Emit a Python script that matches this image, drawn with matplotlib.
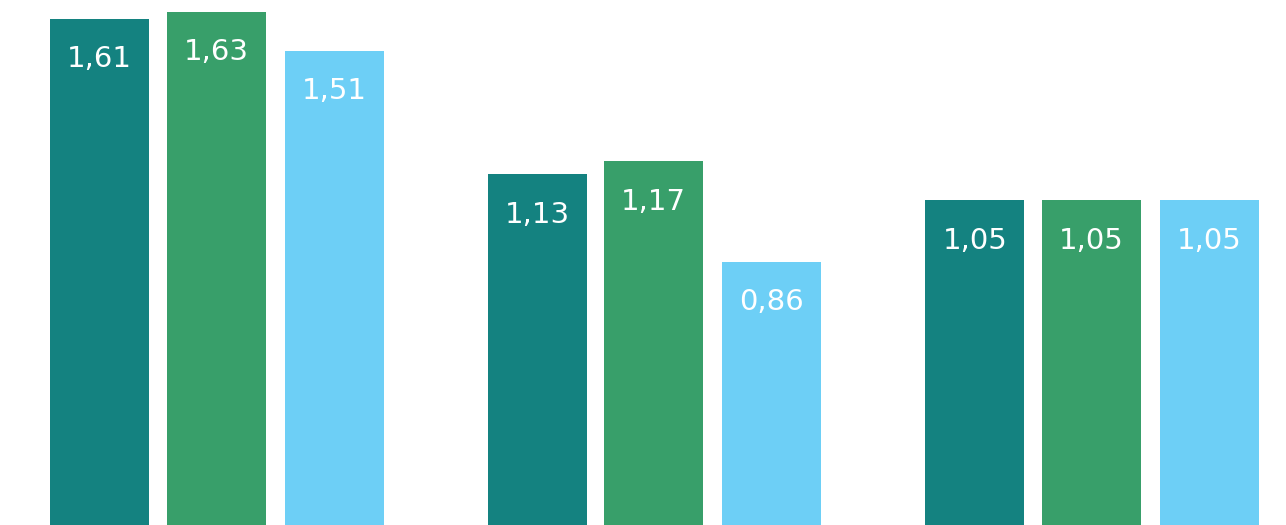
import matplotlib
matplotlib.use("Agg")
import matplotlib.pyplot as plt
import numpy as np

# Dane: trzy grupy po trzy serie
grupy = ["A", "B", "C"]
seria1 = [1.61, 1.13, 1.05]
seria2 = [1.63, 1.17, 1.05]
seria3 = [1.51, 0.86, 1.05]
kolory = ["#148280", "#389F6A", "#6DCFF6"]

fig = plt.figure(figsize=(12.86, 5.25), dpi=100)
ax = fig.add_axes([0, 0, 1, 1])

x = np.arange(len(grupy))
przesuniecie = 0.27
szerokosc = 0.226

for i, (seria, kolor) in enumerate(zip([seria1, seria2, seria3], kolory)):
    pozycje = x + (i - 1) * przesuniecie + (0.004 if i == 0 else 0)
    ax.bar(pozycje, seria, width=szerokosc, color=kolor)
    # Etykiety z wartościami wewnątrz słupków
    for px, v in zip(pozycje, seria):
        ax.annotate(f"{v:.2f}".replace(".", ","), (px, v),
                    xytext=(0, -29), textcoords="offset points",
                    ha="center", va="center", color="white",
                    fontsize=21, family="DejaVu Sans")

ax.set_xlim(-0.494, 2.445)
ax.set_ylim(0.05, 1.667)
ax.axis("off")

fig.savefig("out.png", dpi=100)
